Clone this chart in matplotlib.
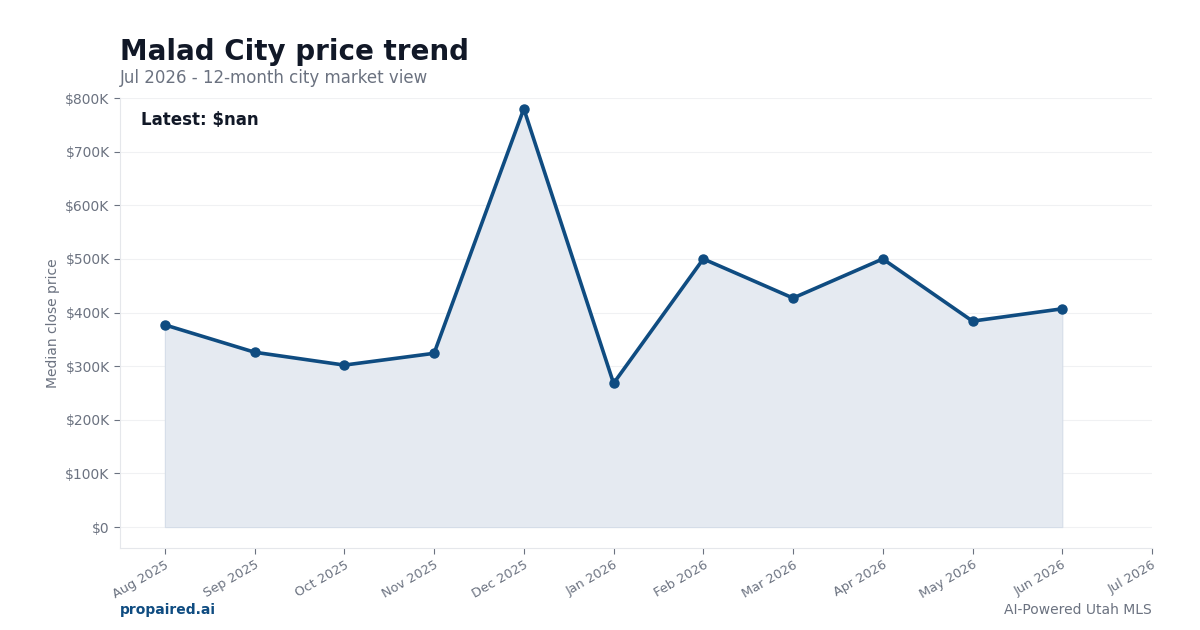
import numpy as np
import matplotlib
matplotlib.use('Agg')
import matplotlib.pyplot as plt
from matplotlib.ticker import FuncFormatter

# Monthly median close price (last month has no data yet)
month_labels = ['Aug 2025', 'Sep 2025', 'Oct 2025', 'Nov 2025', 'Dec 2025', 'Jan 2026',
                'Feb 2026', 'Mar 2026', 'Apr 2026', 'May 2026', 'Jun 2026', 'Jul 2026']
prices = [377000, 326000, 302000, 324000, 780000, 268000,
          500000, 427000, 500000, 384000, 407000, np.nan]

title = 'Malad City price trend'
subtitle = 'Jul 2026 - 12-month city market view'

line_color = '#0f4c81'
gray = '#6b7280'

x = np.arange(len(month_labels))
y = np.array(prices, dtype=float)

fig = plt.figure(figsize=(12, 6.3), dpi=100)
ax = fig.add_axes([0.1, 0.1302, 0.86, 0.7142])

ax.fill_between(x, y, 0, color='#e5eaf1', alpha=1.0, zorder=1,
                edgecolor='#d5dde8', linewidth=0.8)
ax.plot(x, y, color=line_color, linewidth=2.6, marker='o',
        markersize=6.5, zorder=3)

ax.set_ylim(-39000, 800000)
ax.set_xlim(-0.5, len(month_labels) - 1)
ax.set_yticks(np.arange(0, 800001, 100000))
ax.yaxis.set_major_formatter(FuncFormatter(lambda v, p: f'${v/1000:.0f}K' if v else '$0'))
ax.set_xticks(x)
ax.set_xticklabels(month_labels, rotation=30, ha='right', rotation_mode='anchor')

ax.grid(axis='y', color='#f0f1f3', linewidth=0.8)
ax.set_axisbelow(True)
for s in ['top', 'right']:
    ax.spines[s].set_visible(False)
for s in ['left', 'bottom']:
    ax.spines[s].set_color('#e5e7eb')
ax.tick_params(axis='y', colors=gray, labelsize=10, length=4, color=gray)
ax.tick_params(axis='x', colors=gray, labelsize=9.3, length=4, color=gray)
ax.set_ylabel('Median close price', color=gray, fontsize=10)

latest = y[-1]
ax.text(0.02, 0.951, f'Latest: ${latest:,.0f}' if not np.isnan(latest) else 'Latest: $nan',
        transform=ax.transAxes, fontsize=12, fontweight='bold', color='#111827', va='center')

fig.text(0.1, 0.918, title, fontsize=20, fontweight='bold', color='#111827', va='center')
fig.text(0.1, 0.876, subtitle, fontsize=12, color=gray, va='center')
fig.text(0.1, 0.032, 'propaired.ai', fontsize=10, fontweight='bold', color=line_color, va='center')
fig.text(0.96, 0.032, 'AI-Powered Utah MLS', fontsize=10, color=gray, va='center', ha='right')

fig.savefig('out.png', dpi=100)
